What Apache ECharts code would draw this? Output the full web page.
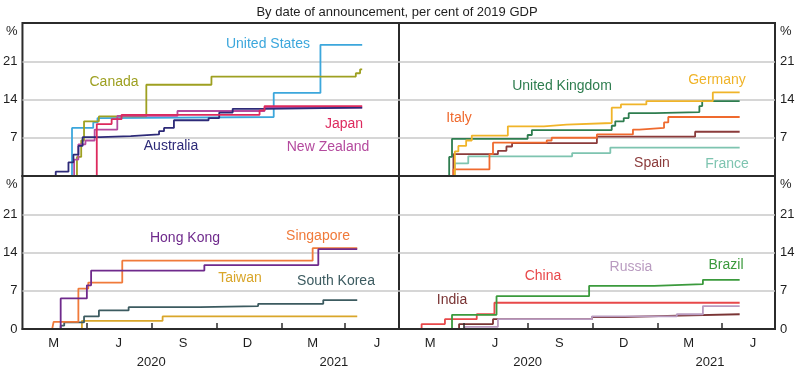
<!DOCTYPE html>
<html><head><meta charset="utf-8">
<script src="https://cdn.jsdelivr.net/npm/echarts@6/dist/echarts.min.js"></script>
<style>html,body{margin:0;padding:0;background:#fff}#c{width:800px;height:379px}</style>
</head><body><div id="c"></div>
<script>
// ---- tick labels ----
const quarterLabels = ['M','J','S','D','M','J'];
const quarterLabelDates = ['2020-02-14','2020-05-16','2020-08-15','2020-11-14','2021-02-14','2021-05-16'];
const quarterTickDates = ['2020-04-01','2020-07-01','2020-10-01','2021-01-01','2021-04-01'];
const yearLabels = ['2020','2021'];
const yearLabelDates = ['2020-07-01','2021-03-16'];
const yTickValues = [0,7,14,21];
const yUnitLabel = '%';

// ---- series values (per cent of 2019 GDP) ----
// Top-left panel
const unitedStates = [['2020-03-08',0],['2020-03-11',8.8],['2020-04-10',9.8],['2020-04-16',10.6],['2020-04-24',10.8],['2020-12-21',15.2],['2021-02-25',24.0],['2021-04-25',24.0]];
const canada = [['2020-03-14',0],['2020-03-18',3.5],['2020-03-24',6.5],['2020-03-28',10.0],['2020-04-18',10.9],['2020-06-24',16.7],['2020-09-24',18.2],['2021-04-16',18.8],['2021-04-22',19.5],['2021-04-25',19.5]];
const japan = [['2020-04-12',0],['2020-04-15',9.5],['2020-05-06',10.4],['2020-05-20',11.2],['2020-12-01',12.0],['2020-12-08',12.8],['2021-04-25',12.8]];
const australia = [['2020-02-14',0],['2020-02-17',0.8],['2020-03-06',2.5],['2020-03-13',3.9],['2020-03-20',5.5],['2020-03-26',7.1],['2020-04-20',7.3],['2020-06-02',7.6],['2020-07-12',8.2],['2020-07-19',8.8],['2020-08-02',10.2],['2020-09-20',10.6],['2020-10-05',11.6],['2020-10-24',12.3],['2020-12-08',12.5],['2021-04-25',12.5]];
const newZealand = [['2020-03-08',0],['2020-03-14',3.0],['2020-03-20',5.8],['2020-03-30',6.5],['2020-04-12',8.5],['2020-05-14',11.0],['2020-08-07',11.9],['2020-12-08',12.5],['2021-04-25',12.5]];
// Top-right panel
const unitedKingdom = [['2020-03-09',0],['2020-03-12',3.5],['2020-03-16',6.8],['2020-07-01',7.5],['2020-07-07',8.4],['2020-10-28',9.2],['2020-11-02',10.0],['2020-11-14',10.6],['2020-11-21',11.5],['2020-12-28',11.7],['2021-03-01',12.8],['2021-03-05',13.7],['2021-04-27',13.7]];
const germany = [['2020-03-14',0],['2020-03-20',4.5],['2020-03-25',5.5],['2020-04-05',6.5],['2020-04-13',7.4],['2020-06-03',9.1],['2020-07-24',9.4],['2020-08-25',9.7],['2020-10-28',12.5],['2020-11-10',13.1],['2020-12-16',13.7],['2021-03-20',15.3],['2021-04-27',15.3]];
const italy = [['2020-03-13',0],['2020-03-18',1.2],['2020-05-08',4.0],['2020-05-13',6.1],['2020-07-28',6.5],['2020-08-04',7.0],['2020-10-07',7.6],['2020-11-27',8.5],['2020-12-06',8.8],['2021-01-10',9.8],['2021-01-16',10.8],['2021-04-27',10.8]];
const spain = [['2020-03-13',0],['2020-03-18',4.0],['2020-05-20',4.6],['2020-06-01',5.4],['2020-06-09',6.0],['2020-10-07',7.2],['2021-02-23',8.1],['2021-04-27',8.1]];
const france = [['2020-03-14',0],['2020-03-20',2.3],['2020-04-08',3.6],['2020-09-02',4.2],['2020-10-26',5.2],['2021-04-27',5.2]];
// Bottom-left panel
const hongKong = [['2020-02-17',0],['2020-02-24',5.6],['2020-04-01',8.0],['2020-04-07',10.7],['2020-09-14',11.7],['2021-02-22',14.6],['2021-04-18',14.6]];
const singapore = [['2020-02-12',0],['2020-02-14',1.3],['2020-03-20',7.4],['2020-04-03',8.5],['2020-05-21',12.5],['2021-02-14',14.8],['2021-04-18',14.8]];
const taiwan = [['2020-03-22',0],['2020-03-25',1.5],['2020-07-17',2.3],['2021-04-18',2.3]];
const southKorea = [['2020-02-16',0],['2020-02-24',0.6],['2020-02-29',1.2],['2020-03-28',2.3],['2020-04-18',3.4],['2020-05-30',4.0],['2020-09-08',4.2],['2020-11-29',4.6],['2021-03-01',5.3],['2021-04-18',5.3]];
// Bottom-right panel
const china = [['2020-01-29',0],['2020-02-02',0.9],['2020-03-06',1.8],['2020-04-20',2.7],['2020-05-15',4.8],['2021-04-27',4.8]];
const brazil = [['2020-03-10',0],['2020-03-16',2.6],['2020-05-18',6.0],['2020-09-26',7.9],['2020-12-27',8.2],['2021-03-06',9.0],['2021-04-27',9.0]];
const india = [['2020-03-20',0],['2020-03-26',0.9],['2020-05-13',1.8],['2020-09-30',2.2],['2020-11-15',2.4],['2021-01-15',2.7],['2021-04-27',2.7]];
const russia = [['2020-03-30',0],['2020-04-03',0.4],['2020-05-20',1.8],['2020-09-30',2.3],['2021-01-28',2.7],['2021-03-06',4.2],['2021-04-27',4.2]];

// ---- build chart ----
const FONT = '"Liberation Sans", Arial, sans-serif';
const INK = '#2b2b2b';
function ts(s){ const p = s.split('-').map(Number); return Date.UTC(p[0], p[1]-1, p[2]); }
const xMin = ts('2020-01-01'), xMax = ts('2021-06-16');
const qLabelTs = quarterLabelDates.map(ts), qTickTs = quarterTickDates.map(ts), yearTs = yearLabelDates.map(ts);

const panels = [
  {left:21, top:23, width:378, height:153, side:'left', bottom:false},
  {left:399, top:23, width:376, height:153, side:'right', bottom:false},
  {left:21, top:176, width:378, height:153, side:'left', bottom:true},
  {left:399, top:176, width:376, height:153, side:'right', bottom:true}
];

const grid = panels.map(p => ({left:p.left, top:p.top, width:p.width, height:p.height,
  show:true, borderColor:INK, borderWidth:2, backgroundColor:'transparent', containLabel:false}));

const xAxis = [], yAxis = [];
panels.forEach((p, i) => {
  xAxis.push({
    gridIndex:i, type:'value', min:xMin, max:xMax, position:'bottom', z:5,
    axisLine:{show:true, onZero:false, lineStyle:{color:INK, width:2}},
    axisTick:{show:p.bottom, inside:true, length:6, customValues:qTickTs, lineStyle:{color:INK, width:1.5}},
    axisLabel:{show:p.bottom, customValues:qLabelTs, margin:8, fontSize:13, color:'#1e1e1e', fontFamily:FONT,
      formatter:(v)=>{ const k = qLabelTs.indexOf(v); return k>=0 ? quarterLabels[k] : ''; }},
    splitLine:{show:false}
  });
  yAxis.push({
    gridIndex:i, type:'value', min:0, max:28, interval:7, position:p.side,
    axisLine:{show:false}, axisTick:{show:false},
    axisLabel:{show:true, margin:5, fontSize:13, color:'#1e1e1e', fontFamily:FONT,
      customValues:(p.bottom ? yTickValues : yTickValues.slice(1)).concat([26.4]),
      formatter:(v)=> v > 25 ? yUnitLabel : String(v)},
    splitLine:{show:true, showMinLine:false, showMaxLine:false, lineStyle:{color:'#c8c8c8', width:1.5}}
  });
});
// year label axes on bottom panels
[2,3].forEach(i => {
  xAxis.push({
    gridIndex:i, type:'value', min:xMin, max:xMax, position:'bottom',
    axisLine:{show:false, onZero:false}, axisTick:{show:false}, splitLine:{show:false},
    axisLabel:{show:true, customValues:yearTs, margin:27, fontSize:13, color:'#1e1e1e', fontFamily:FONT,
      formatter:(v)=>{ const k = yearTs.indexOf(v); return k>=0 ? yearLabels[k] : ''; }}
  });
});

const seriesDefs = [
  ['United States', unitedStates, '#3ca7dc', 0],
  ['Canada', canada, '#9ea021', 0],
  ['New Zealand', newZealand, '#b44a9e', 0],
  ['Australia', australia, '#2d2a78', 0],
  ['Japan', japan, '#dd2a5e', 0],
  ['France', france, '#7ec4b0', 1],
  ['Spain', spain, '#8b3b3b', 1],
  ['Italy', italy, '#ef6a2e', 1],
  ['United Kingdom', unitedKingdom, '#2e7d4f', 1],
  ['Germany', germany, '#f0b429', 1],
  ['Taiwan', taiwan, '#d9a62a', 2],
  ['South Korea', southKorea, '#3c5b60', 2],
  ['Singapore', singapore, '#f07a3a', 2],
  ['Hong Kong', hongKong, '#6f2a8c', 2],
  ['India', india, '#7a3434', 3],
  ['Russia', russia, '#b99bc0', 3],
  ['China', china, '#e8484a', 3],
  ['Brazil', brazil, '#3b9a3d', 3]
];
const series = seriesDefs.map(([name, data, color, g]) => ({
  name, type:'line', step:'end', xAxisIndex:g, yAxisIndex:g, data:data.map(d => [ts(d[0]), d[1]]),
  showSymbol:false, symbol:'none', lineStyle:{color, width:1.8}, itemStyle:{color},
  emphasis:{disabled:true}, silent:true, z:2
}));

const annotations = [
  ['United States', 268, 44, '#3ca7dc'], ['Canada', 114, 82, '#9ea021'], ['Japan', 344, 124, '#dd2a5e'],
  ['Australia', 171, 146, '#2d2a78'], ['New Zealand', 328, 147, '#b44a9e'],
  ['United Kingdom', 562, 86, '#2e7d4f'], ['Germany', 717, 80, '#f0b429'], ['Italy', 459, 118, '#ef6a2e'],
  ['Spain', 652, 163, '#8b3b3b'], ['France', 727, 164, '#7ec4b0'],
  ['Hong Kong', 185, 238, '#6f2a8c'], ['Singapore', 318, 236, '#f07a3a'], ['Taiwan', 240, 278, '#d9a62a'],
  ['South Korea', 336, 281, '#3c5b60'],
  ['Russia', 631, 267, '#b99bc0'], ['Brazil', 726, 265, '#3b9a3d'], ['China', 543, 276, '#e8484a'], ['India', 452, 300, '#7a3434']
];
const graphic = annotations.map(([t, x, y, c]) => ({type:'text', x, y, z:10,
  style:{text:t, fill:c, font:'14px ' + FONT, textAlign:'center', textVerticalAlign:'middle'}}));
graphic.push({type:'text', x:397, y:12, z:10,
  style:{text:'By date of announcement, per cent of 2019 GDP', fill:'#1e1e1e', font:'13px ' + FONT, textAlign:'center', textVerticalAlign:'middle'}});

const chart = echarts.init(document.getElementById('c'), null, {renderer:'canvas'});
chart.setOption({animation:false, backgroundColor:'#fff', grid, xAxis, yAxis, series, graphic});
</script></body></html>
